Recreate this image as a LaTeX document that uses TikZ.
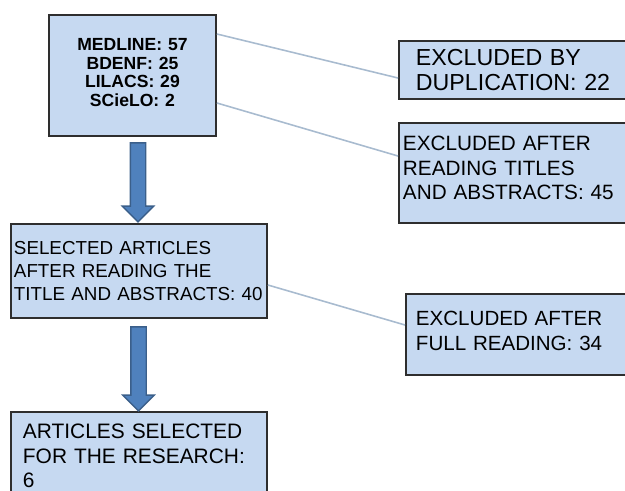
\documentclass[tikz,border=0pt]{standalone}
\usepackage{fontspec}
\setmainfont{Liberation Sans}
\usepackage{tikz}
\usetikzlibrary{calc,shapes.arrows}
\definecolor{boxblue}{HTML}{C6D9F1}
\definecolor{boxline}{HTML}{2E2E2E}
\definecolor{linkgray}{HTML}{A8BBCF}
\definecolor{arrowfill}{HTML}{4F81BD}
\definecolor{arrowline}{HTML}{3B5F8A}

\begin{document}
\begin{tikzpicture}[x=0.02cm, y=-0.02cm,
        box/.style={draw=boxline, line width=1.1pt, fill=boxblue, rectangle, anchor=north west, align=left, inner ysep=0pt},
        link/.style={draw=linkgray, line width=0.9pt},
        downarrow/.style={single arrow, draw=arrowline, fill=arrowfill, line width=0.8pt, rotate=-90, inner xsep=0pt, inner ysep=0.14cm, single arrow head extend=0.16cm}]
            \useasboundingbox (0,0) rectangle (625,490);
            \clip (0,0) rectangle (625,490);
            \node [box, inner xsep=0pt, text width=3.34cm, minimum height=2.42cm, text depth=34.9pt, align=center, font=\bfseries\fontsize{10}{10.5}\selectfont] (dbcount) at (48,14) {MEDLINE: 57\\BDENF: 25\\LILACS: 29\\SCieLO: 2};
            \node [box, inner xsep=0.06cm, text width=5cm, minimum height=1.88cm, font=\fontsize{10.7}{13}\selectfont] (selbox) at (10,223) {SELECTED ARTICLES\\AFTER READING THE\\TITLE AND ABSTRACTS: 40};
            \node [box, inner xsep=0.24cm, text width=4.64cm, minimum height=1.76cm, font=\fontsize{11.9}{13.9}\selectfont] (finalbox) at (10,411) {ARTICLES SELECTED\\FOR THE RESEARCH:\\6};
            \node [box, inner xsep=0.34cm, text width=5.32cm, minimum height=1.16cm, font=\fontsize{13.2}{14.2}\selectfont] (dupbox) at (398,40) {EXCLUDED BY\\DUPLICATION: 22};
            \node [box, inner xsep=0.08cm, text width=5.84cm, minimum height=2cm, text depth=33.5pt, font=\fontsize{11.8}{13.9}\selectfont] (titbox) at (398,122) {EXCLUDED AFTER\\READING TITLES\\AND ABSTRACTS: 45};
            \node [box, inner xsep=0.2cm, text width=5.6cm, minimum height=1.62cm, text depth=18.2pt, font=\fontsize{11.7}{14.2}\selectfont] (fullbox) at (405,293) {EXCLUDED AFTER\\FULL READING: 34};
            \node [downarrow, minimum height=1.58cm] (arrowone) at (138,178.5) {};
            \node [downarrow, minimum height=1.68cm] (arrowtwo) at (138.5,365) {};
            \draw [link] ($(dbcount.north east)+(0,20)$) -- ($(dupbox.north west)+(0,38)$);
            \draw [link] ($(dbcount.north east)+(0,89)$) -- ($(titbox.north west)+(0,34)$);
            \draw [link] ($(selbox.north east)+(0,62)$) -- ($(fullbox.north west)+(0,32)$);
        \end{tikzpicture}
\end{document}
